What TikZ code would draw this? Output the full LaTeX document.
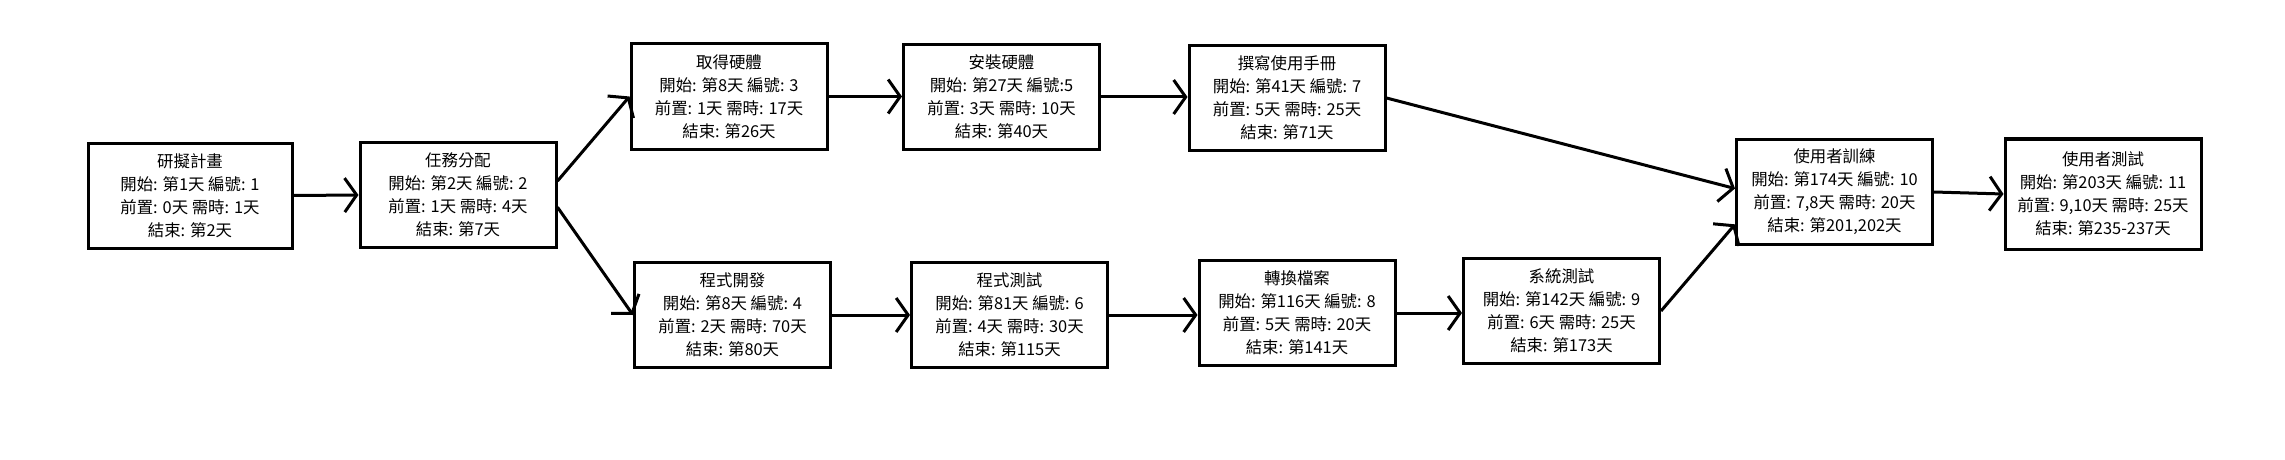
\documentclass[tikz,border=0pt]{standalone}
\usepackage{fontspec}
\newfontfamily\cjk{Noto Sans CJK TC}
\usepackage{tikz}
\usetikzlibrary{arrows.meta}
\tikzset{>={Straight Barb[length=6pt,width=17pt]}}

\begin{document}
\begin{tikzpicture}[x=0.5pt, y={(0pt,-0.5pt)},
task/.style={draw, line width=1.5pt, minimum width=98pt, minimum height=52.5pt, inner sep=2pt, align=center, font=\cjk\fontsize{8.2pt}{11.5pt}\selectfont}]
\useasboundingbox[fill=white] (0,0) rectangle (2285,460);
\node[task, minimum width=102pt] (t1) at (190,195.5) {研擬計畫\\開始: 第1天 編號: 1\\前置: 0天 需時: 1天\\結束: 第2天};
\node[task] (t2) at (458,195) {任務分配\\開始: 第2天 編號: 2\\前置: 1天 需時: 4天\\結束: 第7天};
\node[task] (t3) at (729,96.5) {取得硬體\\開始: 第8天 編號: 3\\前置: 1天 需時: 17天\\結束: 第26天};
\node[task] (t5) at (1001.5,97) {安裝硬體\\開始: 第27天 編號:5\\前置: 3天 需時: 10天\\結束: 第40天};
\node[task] (t7) at (1287,98) {撰寫使用手冊\\開始: 第41天 編號: 7\\前置: 5天 需時: 25天\\結束: 第71天};
\node[task] (t4) at (732.5,315) {程式開發\\開始: 第8天 編號: 4\\前置: 2天 需時: 70天\\結束: 第80天};
\node[task] (t6) at (1009.5,315) {程式測試\\開始: 第81天 編號: 6\\前置: 4天 需時: 30天\\結束: 第115天};
\node[task] (t8) at (1297,313) {轉換檔案\\開始: 第116天 編號: 8\\前置: 5天 需時: 20天\\結束: 第141天};
\node[task] (t9) at (1561.5,311) {系統測試\\開始: 第142天 編號: 9\\前置: 6天 需時: 25天\\結束: 第173天};
\node[task] (t10) at (1834.5,192) {使用者訓練\\開始: 第174天 編號: 10\\前置: 7,8天 需時: 20天\\結束: 第201,202天};
\node[task, minimum height=55pt] (t11) at (2103,194) {使用者測試\\開始: 第203天 編號: 11\\前置: 9,10天 需時: 25天\\結束: 第235-237天};
\path[->, line width=1.5pt]
(t1.east) edge (t2.west)
(t2.8) edge (t3.west)
(t2.-7) edge (t4.west)
(t3.east) edge (t3.east -| t5.west)
(t5.east) edge (t5.east -| t7.west)
(t4.east) edge (t6.west)
(t6.east) edge (t6.east -| t8.west)
(t8.east) edge (t8.east -| t9.west)
(t7.east) edge (t10.178)
(t9.east) edge (t10.198)
(t10.east) edge (t11.west)
;
\end{tikzpicture}
\end{document}
